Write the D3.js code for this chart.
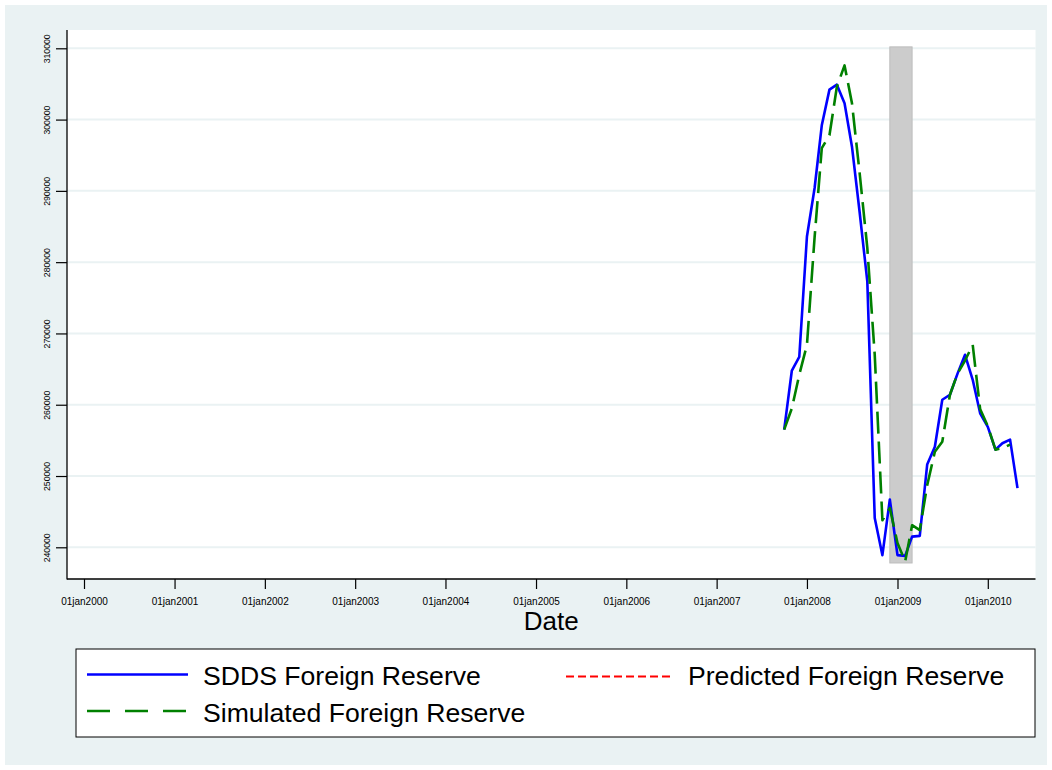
<!DOCTYPE html>
<html>
<head>
<meta charset="utf-8">
<script src="https://cdn.jsdelivr.net/npm/d3@7"></script>
<style>
  html, body { margin: 0; padding: 0; background: #ffffff; }
  svg { display: block; font-family: "Liberation Sans", Arial, sans-serif; }
</style>
</head>
<body>
<svg id="chart" width="1052" height="770"></svg>
<script>
// ---- data ----
const months = [
  "2007-10-01","2007-11-01","2007-12-01",
  "2008-01-01","2008-02-01","2008-03-01","2008-04-01","2008-05-01","2008-06-01",
  "2008-07-01","2008-08-01","2008-09-01","2008-10-01","2008-11-01","2008-12-01",
  "2009-01-01","2009-02-01","2009-03-01","2009-04-01","2009-05-01","2009-06-01",
  "2009-07-01","2009-08-01","2009-09-01","2009-10-01","2009-11-01","2009-12-01",
  "2010-01-01","2010-02-01","2010-03-01","2010-04-01","2010-05-01"
];
const sddsReserve = [
  256500, 264800, 266700,
  283600, 290400, 299200, 304200, 304900, 302300,
  296200, 287000, 277300, 244100, 238900, 246700,
  238900, 238800, 241500, 241600, 251600, 254100,
  260700, 261400, 264400, 267000, 263500, 258800,
  256900, 253700, 254600, 255100, 248300
];
const simulatedReserve = [
  256500, 259500, 264200,
  268400, 283500, 296000, 297800, 304600, 307600,
  302300, 292500, 282000, 267000, 243800, 245500,
  240600, 238000, 243100, 242400, 248700, 253400,
  254800, 261400, 264400, 266200, 268400, 259400,
  257000, 253700, 253900, 254400
];
const predictedReserve = []; // no visible observations in the reference
const crisisBand = { start: "2008-12-01", end: "2009-03-01", low: 237800, high: 310200 };
const xTickDates = ["2000-01-01","2001-01-01","2002-01-01","2003-01-01","2004-01-01","2005-01-01",
                    "2006-01-01","2007-01-01","2008-01-01","2009-01-01","2010-01-01"];
const xTickLabels = ["01jan2000","01jan2001","01jan2002","01jan2003","01jan2004","01jan2005",
                     "01jan2006","01jan2007","01jan2008","01jan2009","01jan2010"];
const yTicks = [240000, 250000, 260000, 270000, 280000, 290000, 300000, 310000];
const seriesNames = ["SDDS Foreign Reserve", "Predicted Foreign Reserve", "Simulated Foreign Reserve"];

// ---- layout ----
const parse = d3.timeParse("%Y-%m-%d");
const svg = d3.select("#chart");
const bg = "#eaf2f3";
const plotL = 67, plotR = 1035.5, plotT = 30, plotB = 579;

svg.append("rect").attr("x", 5).attr("y", 5).attr("width", 1042).attr("height", 760).attr("fill", bg);
svg.append("rect").attr("x", plotL).attr("y", plotT).attr("width", plotR - plotL).attr("height", plotB - plotT).attr("fill", "#ffffff");

const x = d3.scaleTime().domain([parse("2000-01-01"), parse("2010-01-01")]).range([84, 987.8]);
const y = d3.scaleLinear().domain([240000, 310000]).range([547.3, 48.3]);

// gridlines
svg.append("g").selectAll("line").data(yTicks).join("line")
  .attr("x1", plotL).attr("x2", plotR)
  .attr("y1", d => y(d)).attr("y2", d => y(d))
  .attr("stroke", bg).attr("stroke-width", 2);

// shaded crisis band
svg.append("rect")
  .attr("x", x(parse(crisisBand.start)))
  .attr("width", x(parse(crisisBand.end)) - x(parse(crisisBand.start)))
  .attr("y", y(crisisBand.high))
  .attr("height", y(crisisBand.low) - y(crisisBand.high))
  .attr("fill", "#cccccc").attr("stroke", "#bdbdbd").attr("stroke-width", 1);

// axes
const xAxis = d3.axisBottom(x)
  .tickValues(xTickDates.map(parse))
  .tickFormat((d, i) => xTickLabels[i])
  .tickSize(10).tickSizeOuter(0);
const gx = svg.append("g").attr("transform", `translate(0,${plotB})`).call(xAxis);
gx.select(".domain").remove();
gx.selectAll(".tick line").attr("stroke", "#000").attr("stroke-width", 1.2);
gx.selectAll(".tick text").attr("y", 26).attr("dy", null)
  .attr("font-size", 10).attr("fill", "#000")
  .attr("font-family", "Liberation Sans, Arial, sans-serif");

const yAxis = d3.axisLeft(y).tickValues(yTicks).tickFormat(d3.format("d")).tickSize(11).tickSizeOuter(0);
const gy = svg.append("g").attr("transform", `translate(${plotL},0)`).call(yAxis);
gy.select(".domain").remove();
gy.selectAll(".tick line").attr("stroke", "#000").attr("stroke-width", 1.2);
gy.selectAll(".tick text")
  .attr("x", null).attr("dy", null)
  .attr("text-anchor", "middle")
  .attr("transform", "translate(-17.5,0) rotate(-90)")
  .attr("font-size", 8.7).attr("fill", "#000")
  .attr("font-family", "Liberation Sans, Arial, sans-serif");

svg.append("line").attr("x1", plotL).attr("x2", plotL).attr("y1", plotT).attr("y2", plotB + 0.5)
  .attr("stroke", "#000").attr("stroke-width", 1.3);
svg.append("line").attr("x1", plotL).attr("x2", plotR).attr("y1", plotB).attr("y2", plotB)
  .attr("stroke", "#000").attr("stroke-width", 1.3);

// axis title
svg.append("text").attr("x", (plotL + plotR) / 2).attr("y", 630)
  .attr("text-anchor", "middle").attr("font-size", 26).attr("fill", "#000").text("Date");

// lines
const line = d3.line().x((d, i) => x(parse(months[i]))).y(d => y(d));
svg.append("path").datum(sddsReserve).attr("d", line)
  .attr("fill", "none").attr("stroke", "#0000ff").attr("stroke-width", 2.6).attr("stroke-linejoin", "round");
if (predictedReserve.length) {
  svg.append("path").datum(predictedReserve).attr("d", line)
    .attr("fill", "none").attr("stroke", "#ff0000").attr("stroke-width", 2).attr("stroke-dasharray", "8,4");
}
svg.append("path").datum(simulatedReserve).attr("d", line)
  .attr("fill", "none").attr("stroke", "#008000").attr("stroke-width", 2.6)
  .attr("stroke-dasharray", "22,8").attr("stroke-linejoin", "round");

// legend
const lg = svg.append("g");
lg.append("rect").attr("x", 76).attr("y", 649).attr("width", 959).attr("height", 88)
  .attr("fill", "#fff").attr("stroke", "#000").attr("stroke-width", 1);
const legendItems = [
  { name: seriesNames[0], color: "#0000ff", dash: null, x1: 87, x2: 188, tx: 203, ly: 674.5, ty: 685 },
  { name: seriesNames[1], color: "#ff0000", dash: "8,4", x1: 566, x2: 672, tx: 688, ly: 676.5, ty: 685 },
  { name: seriesNames[2], color: "#008000", dash: "23,15", x1: 87, x2: 188, tx: 203, ly: 711, ty: 721.5 }
];
legendItems.forEach(it => {
  lg.append("line").attr("x1", it.x1).attr("x2", it.x2).attr("y1", it.ly).attr("y2", it.ly)
    .attr("stroke", it.color).attr("stroke-width", it.dash === "8,4" ? 1.8 : 2.4)
    .attr("stroke-dasharray", it.dash);
  lg.append("text").attr("x", it.tx).attr("y", it.ty).attr("font-size", 26.6).attr("fill", "#000").text(it.name);
});
</script>
</body>
</html>
